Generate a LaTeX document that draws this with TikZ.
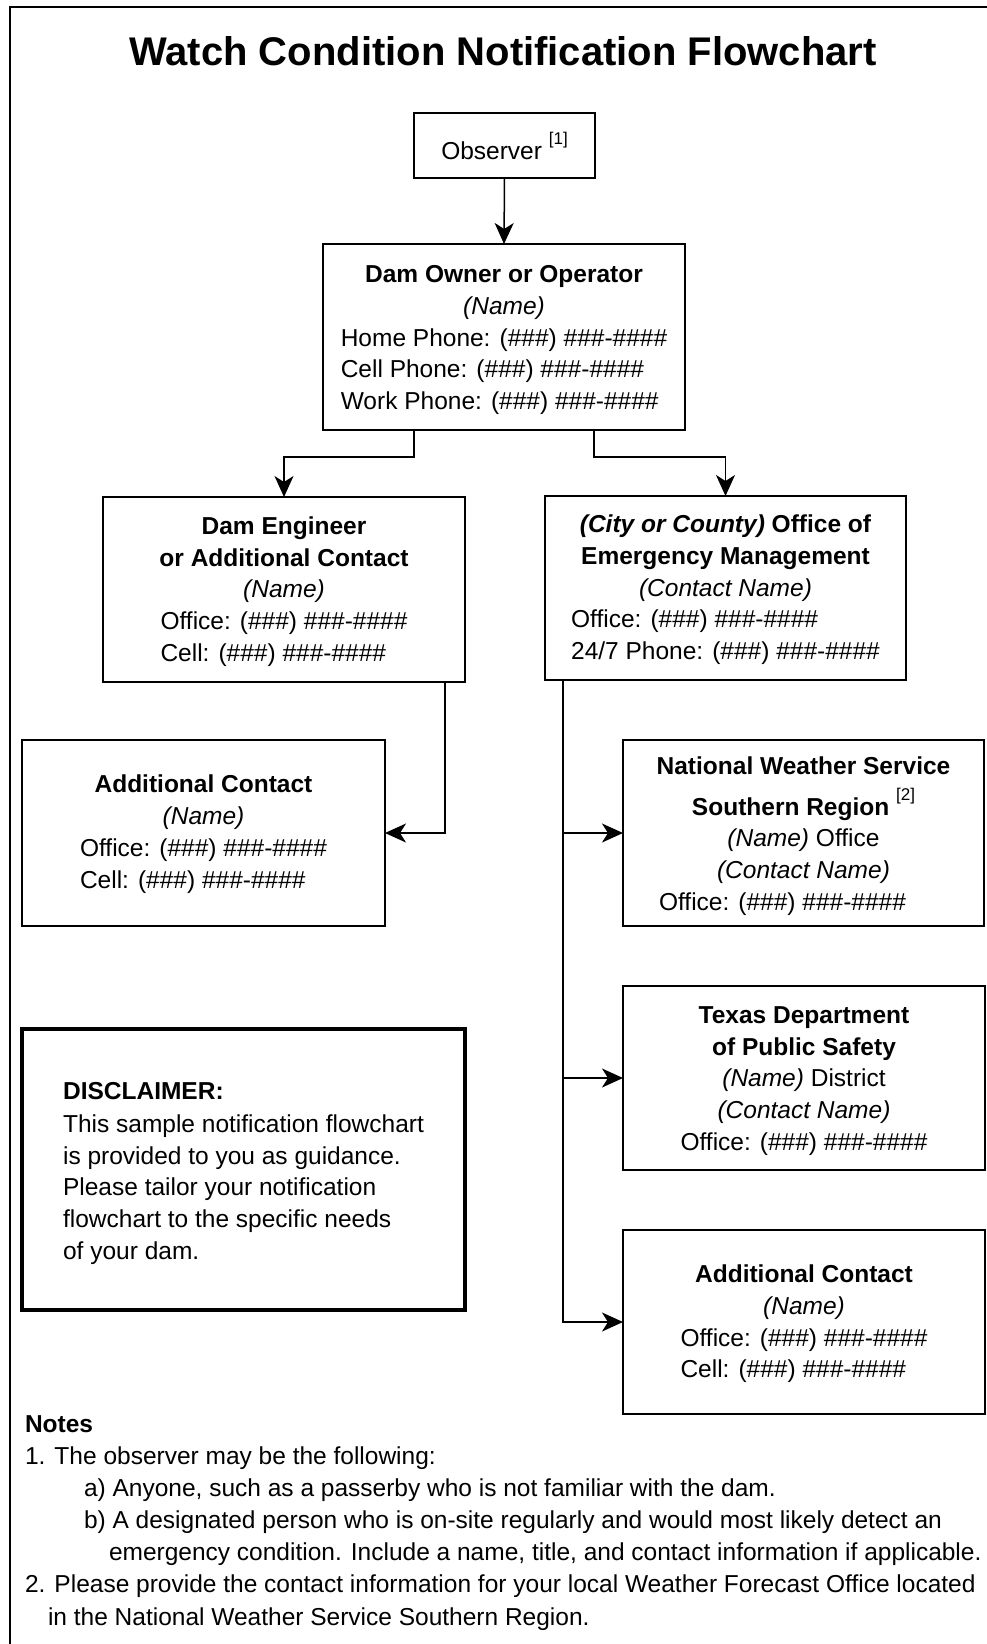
\documentclass[tikz,border=0pt]{standalone}
\usepackage{fontspec}
\setmainfont{Liberation Sans}
\usetikzlibrary{arrows.meta,calc}
\newcommand{\phn}{(\#\#\#) \#\#\#-\#\#\#\#}
\newcommand{\supref}[1]{\raisebox{15pt}{\fontsize{17}{17}\selectfont #1}}
\newcommand{\lblock}[1]{\begin{tabular}[t]{@{}l@{}}#1\end{tabular}}
\newcommand{\tp}[1]{\rule{0pt}{#1pt}}
\begin{document}
\begin{tikzpicture}[x=1pt,y=-1pt,
  every node/.style={inner sep=0pt, outer sep=0pt},
  txt/.style={font=\fontsize{24.5}{31.7}\selectfont},
  box/.style={txt, draw, line width=1.8pt, align=center, anchor=center},
  arr/.style={-{Stealth[length=21pt,width=19pt,inset=6pt]}, line width=1.5pt}]
\useasboundingbox (0,0) rectangle (986,1644);
\draw[line width=2pt] (10,1650) -- (10,7) -- (992,7);
\node[font=\fontsize{40}{48}\selectfont\bfseries, anchor=base] (title) at (503,65) {Watch Condition Notification Flowchart};

\node[box, minimum width=181pt, minimum height=65pt] (obs) at (504.5,145.5) {Observer \supref{[1]}};

\node[box, minimum width=362pt, minimum height=186pt] (own) at (504,337)
 {\tp{28}\textbf{Dam Owner or Operator}\\ \textit{(Name)}\\
  \lblock{Home Phone: \phn\\ Cell Phone: \phn\\ Work Phone: \phn}};

\node[box, minimum width=362pt, minimum height=185pt] (eng) at (284,589.5)
 {\tp{26}\textbf{Dam Engineer}\\ \textbf{or Additional Contact}\\ \textit{(Name)}\\
  \lblock{Office: \phn\\ Cell: \phn}};

\node[box, minimum width=361pt, minimum height=184pt] (oem) at (725.5,588)
 {\tp{26}\textbf{\textit{(City or County)} Office of}\\ \textbf{Emergency Management}\\ \textit{(Contact Name)}\\
  \lblock{Office: \phn\\ 24/7 Phone: \phn}};

\node[box, minimum width=363pt, minimum height=186pt] (addl) at (203.5,833)
 {\tp{24.5}\textbf{Additional Contact}\\ \textit{(Name)}\\
  \lblock{Office: \phn\\ Cell: \phn}};

\node[box, minimum width=361pt, minimum height=186pt] (nws) at (803.5,833)
 {\tp{23.5}\textbf{National Weather Service}\\[9.5pt] \textbf{Southern Region} \supref{[2]}\\
  \textit{(Name)} Office\\ \textit{(Contact Name)}\\ \hspace*{-42pt}Office: \phn};

\node[box, minimum width=362pt, minimum height=184pt] (tx) at (804,1078)
 {\tp{23}\textbf{Texas Department}\\ \textbf{of Public Safety}\\ \textit{(Name)} District\\
  \textit{(Contact Name)}\\ Office: \phn};

\node[box, minimum width=362pt, minimum height=184pt] (addr) at (804,1322)
 {\tp{26}\textbf{Additional Contact}\\ \textit{(Name)}\\
  \lblock{Office: \phn\\ Cell: \phn}};

\node[box, line width=4pt, align=left, minimum width=443pt, minimum height=281pt] (disc) at (243.5,1169.5)
 {\tp{25}\textbf{DISCLAIMER:}\\[1.3pt] This sample notification flowchart\\ is provided to you as guidance.\\
  Please tailor your notification\\ flowchart to the specific needs\\ of your dam.};

\node[font=\fontsize{24.5}{32.1}\selectfont, align=left, anchor=base west] (notes) at (25,1625)
 {\textbf{Notes}\\
  1. The observer may be the following:\\
  \hspace*{59pt}a) Anyone, such as a passerby who is not familiar with the dam.\\
  \hspace*{59pt}b) A designated person who is on-site regularly and would most likely detect an\\
  \hspace*{84pt}emergency condition. Include a name, title, and contact information if applicable.\\
  2. Please provide the contact information for your local Weather Forecast Office located\\
  \hspace*{23pt}in the National Weather Service Southern Region.};

\draw[arr] (obs.south) -- (own.north);
\draw[arr] ([xshift=-90pt]own.south) -- ++(0,27) -| (eng.north);
\draw[arr] ([xshift=90pt]own.south) -- ++(0,27) -| (oem.north);
\draw[arr] ([xshift=161pt]eng.south) |- (addl.east);
\draw[arr] ([xshift=18pt]oem.south west) |- (nws.west);
\draw[arr] ([xshift=18pt]oem.south west) |- (tx.west);
\draw[arr] ([xshift=18pt]oem.south west) |- (addr.west);
\end{tikzpicture}
\end{document}
